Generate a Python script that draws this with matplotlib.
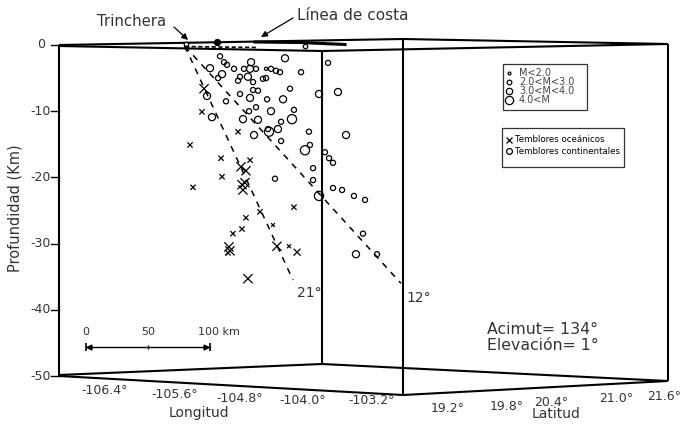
import matplotlib
matplotlib.use('Agg')
import matplotlib.pyplot as plt
from matplotlib.patches import Rectangle

# escala del dibujo: pixeles por km (horizontal) y por km de profundidad
KM_PX = 1.24
Z_PX = 6.62
X0_PX = 86
Z0_PX = 45


def P(px, py):
    # posicion en la figura -> coordenadas (km, profundidad)
    return (px - X0_PX) / KM_PX, -(py - Z0_PX) / Z_PX


# temblores continentales: distancia proyectada (km), profundidad (km), clase de magnitud
cont_x = [108.1, 111.3, 113.7, 100.0, 119.4, 127.4, 133.1, 132.3, 137.1, 145.2,
          149.2, 153.2, 156.5, 160.5, 173.4, 195.2, 109.7, 106.5, 124.2, 130.6,
          122.6, 134.7, 145.2, 142.7, 134.7, 138.7, 124.2, 132.3, 146.0, 158.9,
          112.9, 97.6, 164.5, 187.9, 203.2, 101.6, 131.5, 137.1, 149.2, 167.7,
          126.6, 138.7, 157.3, 166.1, 135.5, 146.8, 147.6, 154.8, 179.8, 209.7,
          157.3, 176.6, 180.6, 192.7, 196.0, 199.2, 183.1, 183.1, 152.4, 199.2,
          206.5, 216.1, 225.0, 187.9, 223.4, 217.7, 234.7]
cont_z = [-1.7, -2.6, -3.0, -3.5, -3.6, -3.6, -2.6, -3.6, -3.6, -3.6,
          -3.6, -3.9, -4.1, -2.0, -4.1, -2.7, -4.4, -5.0, -4.8, -4.8,
          -5.4, -5.6, -5.0, -5.1, -6.8, -6.9, -7.4, -8.0, -8.2, -8.2,
          -8.5, -7.7, -6.6, -7.4, -7.1, -10.9, -10.0, -9.4, -10.0, -9.8,
          -11.2, -11.3, -11.6, -11.2, -13.6, -12.7, -13.1, -12.7, -13.1, -13.6,
          -14.5, -15.9, -15.1, -16.2, -17.1, -17.8, -18.6, -20.4, -20.2, -21.6,
          -21.9, -22.8, -23.4, -22.8, -28.5, -31.6, -31.6]
cont_m = [2, 2, 2, 3, 2, 2, 3, 3, 2, 1,
          2, 2, 2, 3, 2, 2, 3, 2, 2, 3,
          2, 2, 2, 2, 2, 2, 2, 3, 2, 3,
          2, 3, 2, 3, 3, 3, 2, 2, 3, 2,
          3, 3, 2, 4, 3, 2, 4, 3, 2, 3,
          2, 4, 2, 2, 2, 2, 2, 2, 2, 2,
          2, 2, 2, 4, 2, 3, 2]

# temblores oceanicos
oce_x = [95.2, 93.5, 83.9, 108.9, 109.7, 86.3, 132.3, 125.0, 129.0, 128.2,
         125.8, 126.6, 122.6, 167.7, 140.3, 129.0, 125.8, 118.5, 115.3, 116.1,
         114.5, 154.0, 163.7, 170.2, 130.6, 150.8]
oce_z = [-6.6, -10.1, -15.1, -17.1, -19.9, -21.5, -17.4, -18.4, -19.0, -20.8,
         -21.1, -21.9, -13.1, -24.5, -25.2, -26.1, -27.8, -28.5, -30.5, -31.1,
         -31.4, -30.4, -30.4, -31.3, -35.3, -27.2]
oce_m = [4, 2, 2, 2, 2, 2, 2, 4, 4, 4,
         4, 4, 2, 2, 2, 2, 2, 2, 4, 4,
         2, 4, 1, 3, 4, 1]

# perfiles de la placa (inicio y fin)
slab21_x = [79.8, 166.9]
slab21_z = [-0.2, -35.5]
slab12_x = [79.8, 254.0]
slab12_z = [-0.2, -36.0]

mag_labels = ['M<2.0', '2.0<M<3.0', '3.0<M<4.0', '4.0<M']
circ_size = {1: 2.3, 2: 3.7, 3: 5.1, 4: 6.6}
cross_size = {1: 2.8, 2: 3.8, 3: 5.0, 4: 6.6}

depth_ticks = [0, -10, -20, -30, -40, -50]
lon_labels = ['-106.4°', '-105.6°', '-104.8°', '-104.0°', '-103.2°']
lat_labels = ['19.2°', '19.8°', '20.4°', '21.0°', '21.6°']
scale_km = [0, 50, 100]
scale_labels = ['0', '50', '100 km']

plt.rcParams['font.family'] = ['DejaVu Sans']
TXT = '#333333'

fig = plt.figure(figsize=(6.92, 4.30), dpi=100)
ax = fig.add_axes([0, 0, 1, 1])
ax.set_xlim(P(0, 0)[0], P(692, 0)[0])
ax.set_ylim(P(0, 430)[1], P(0, 0)[1])
ax.axis('off')

# caja pseudo 3d
frame = [
    [(59, 45), (59, 376)],
    [(59, 376), (403, 395), (668, 381)],
    [(59, 375), (322, 364), (668, 381)],
    [(668, 381), (668, 44)],
    [(403, 395), (403, 39)],
    [(322, 364), (322, 51)],
    [(59, 45), (403, 39), (668, 44)],
    [(59, 46), (322, 51), (668, 44)],
]
for seg in frame:
    pts = [P(*p) for p in seg]
    ax.plot([p[0] for p in pts], [p[1] for p in pts], color='k', lw=1.5,
            solid_capstyle='butt', zorder=2)

# linea de costa (trazo grueso en la superficie)
c = [P(255, 42), P(300, 42.5), P(345, 44.5)]
ax.plot([p[0] for p in c], [p[1] for p in c], color='k', lw=2.2, zorder=3)

# trinchera
t = [P(185, 46.5), P(258, 47.5)]
ax.plot([p[0] for p in t], [p[1] for p in t], color='k', lw=1.2,
        dashes=(2.5, 1.5), zorder=3)
ax.plot(*P(186, 44), marker='o', ms=3.2, mfc='white', mec='k', mew=0.9, zorder=4)
ax.plot(*P(186, 48), marker='v', ms=3, color='k', zorder=4)
ax.plot(*P(217, 42), marker='o', ms=4.2, color='k', zorder=4)
ax.plot(*P(305, 46), marker='o', ms=3.2, mfc='white', mec='k', mew=0.9, zorder=4)

# perfiles de la placa
ax.plot(slab21_x, slab21_z, color='k', lw=1.1, dashes=(4, 4), zorder=3)
ax.plot(slab12_x, slab12_z, color='k', lw=1.1, dashes=(4, 4), zorder=3)
ax.text(*P(297, 293), '21°', fontsize=10, color=TXT, va='center', ha='left')
ax.text(*P(406, 298), '12°', fontsize=10, color=TXT, va='center', ha='left')

# sismicidad
ax.scatter(oce_x, oce_z, s=[cross_size[m] ** 2 for m in oce_m], marker='x',
           c='k', linewidths=0.9, zorder=5)
ax.scatter(cont_x, cont_z, s=[circ_size[m] ** 2 for m in cont_m], marker='o',
           facecolors='none', edgecolors='k', linewidths=0.9, zorder=6)

# eje de profundidad
for d in depth_ticks:
    ax.plot([P(51, 0)[0], P(59, 0)[0]], [d, d], color='k', lw=1.0)
    ax.text(P(41, 0)[0], d, str(d), fontsize=9, color=TXT, ha='center', va='center')
ax.text(*P(15, 208), 'Profundidad (Km)', fontsize=10.5, color=TXT, rotation=90,
        ha='center', va='center')

# etiquetas de longitud y latitud
lon_pos = [(105, 390), (175, 395), (240, 398), (303, 401), (372, 400)]
lat_pos = [(448, 408), (507, 406), (551, 402), (616, 399), (664, 397)]
for lab, (px, py) in zip(lon_labels, lon_pos):
    ax.text(*P(px, py), lab, fontsize=9, color=TXT, ha='center', va='center')
for lab, (px, py) in zip(lat_labels, lat_pos):
    ax.text(*P(px, py), lab, fontsize=9, color=TXT, ha='center', va='center')
ax.text(*P(199, 413), 'Longitud', fontsize=10, color=TXT, ha='center', va='center')
ax.text(*P(556, 414), 'Latitud', fontsize=10, color=TXT, ha='center', va='center')

# anotaciones
ax.text(*P(132, 22), 'Trinchera', fontsize=10.7, color=TXT, ha='center', va='center')
ax.annotate('', xy=P(188, 40), xytext=P(174, 27),
            arrowprops=dict(arrowstyle='-|>', color='k', lw=0.9,
                            mutation_scale=9, shrinkA=0, shrinkB=0))
ax.text(*P(297, 16), 'Línea de costa', fontsize=11, color=TXT, ha='left', va='center')
ax.annotate('', xy=P(261, 37), xytext=P(293, 18),
            arrowprops=dict(arrowstyle='-|>', color='k', lw=0.9,
                            mutation_scale=9, shrinkA=0, shrinkB=0))
ax.text(*P(487, 329), 'Acimut= 134°', fontsize=11.3, color=TXT, ha='left', va='center')
ax.text(*P(487, 346), 'Elevación= 1°', fontsize=11.3, color=TXT, ha='left', va='center')

# barra de escala
y_bar = P(0, 347)[1]
y_lab = P(0, 332)[1]
ax.plot([scale_km[0], scale_km[-1]], [y_bar, y_bar], color='k', lw=1.0)
ax.plot([scale_km[0], scale_km[-1]], [y_bar, y_bar], ls='none', marker='|',
        ms=6, mew=1.2, color='k')
ax.plot([P(89, 0)[0]], [y_bar], marker='<', ms=3.5, color='k', ls='none')
ax.plot([P(206, 0)[0]], [y_bar], marker='>', ms=3.5, color='k', ls='none')
ax.plot([scale_km[1]], [y_bar], marker='|', ms=2.5, color='k')
ax.text(scale_km[0], y_lab, scale_labels[0], fontsize=8, color=TXT, ha='center', va='center')
ax.text(scale_km[1], y_lab, scale_labels[1], fontsize=8, color=TXT, ha='center', va='center')
ax.text(P(198, 0)[0], y_lab, scale_labels[2], fontsize=8, color=TXT, ha='left', va='center')

# leyenda de magnitudes
x0, y0 = P(503, 110)
x1, y1 = P(587, 64)
ax.add_patch(Rectangle((x0, y0), x1 - x0, y1 - y0, fill=False, ec='#333333', lw=0.9))
for i, lab in enumerate(mag_labels):
    yy = P(0, 73 + i * 9)[1]
    ax.plot(P(509, 0)[0], yy, marker='o', ms=circ_size[i + 1] * 0.9, mfc='none',
            mec='k', mew=0.9)
    ax.text(P(519, 0)[0], yy, lab, fontsize=7, color='#444444', ha='left', va='center')

# leyenda de tipos
x0, y0 = P(502, 167)
x1, y1 = P(624, 128)
ax.add_patch(Rectangle((x0, y0), x1 - x0, y1 - y0, fill=False, ec='#333333', lw=0.9))
yy = P(0, 140)[1]
ax.plot(P(509, 0)[0], yy, marker='x', ms=4.2, color='k', mew=0.9)
ax.text(P(515, 0)[0], yy, 'Temblores oceánicos', fontsize=6.2, color='k', ha='left', va='center')
yy = P(0, 151)[1]
ax.plot(P(509, 0)[0], yy, marker='o', ms=4.2, mfc='none', mec='k', mew=0.9)
ax.text(P(515, 0)[0], yy, 'Temblores continentales', fontsize=6.2, color='k', ha='left', va='center')

fig.savefig('out.png', dpi=100)
